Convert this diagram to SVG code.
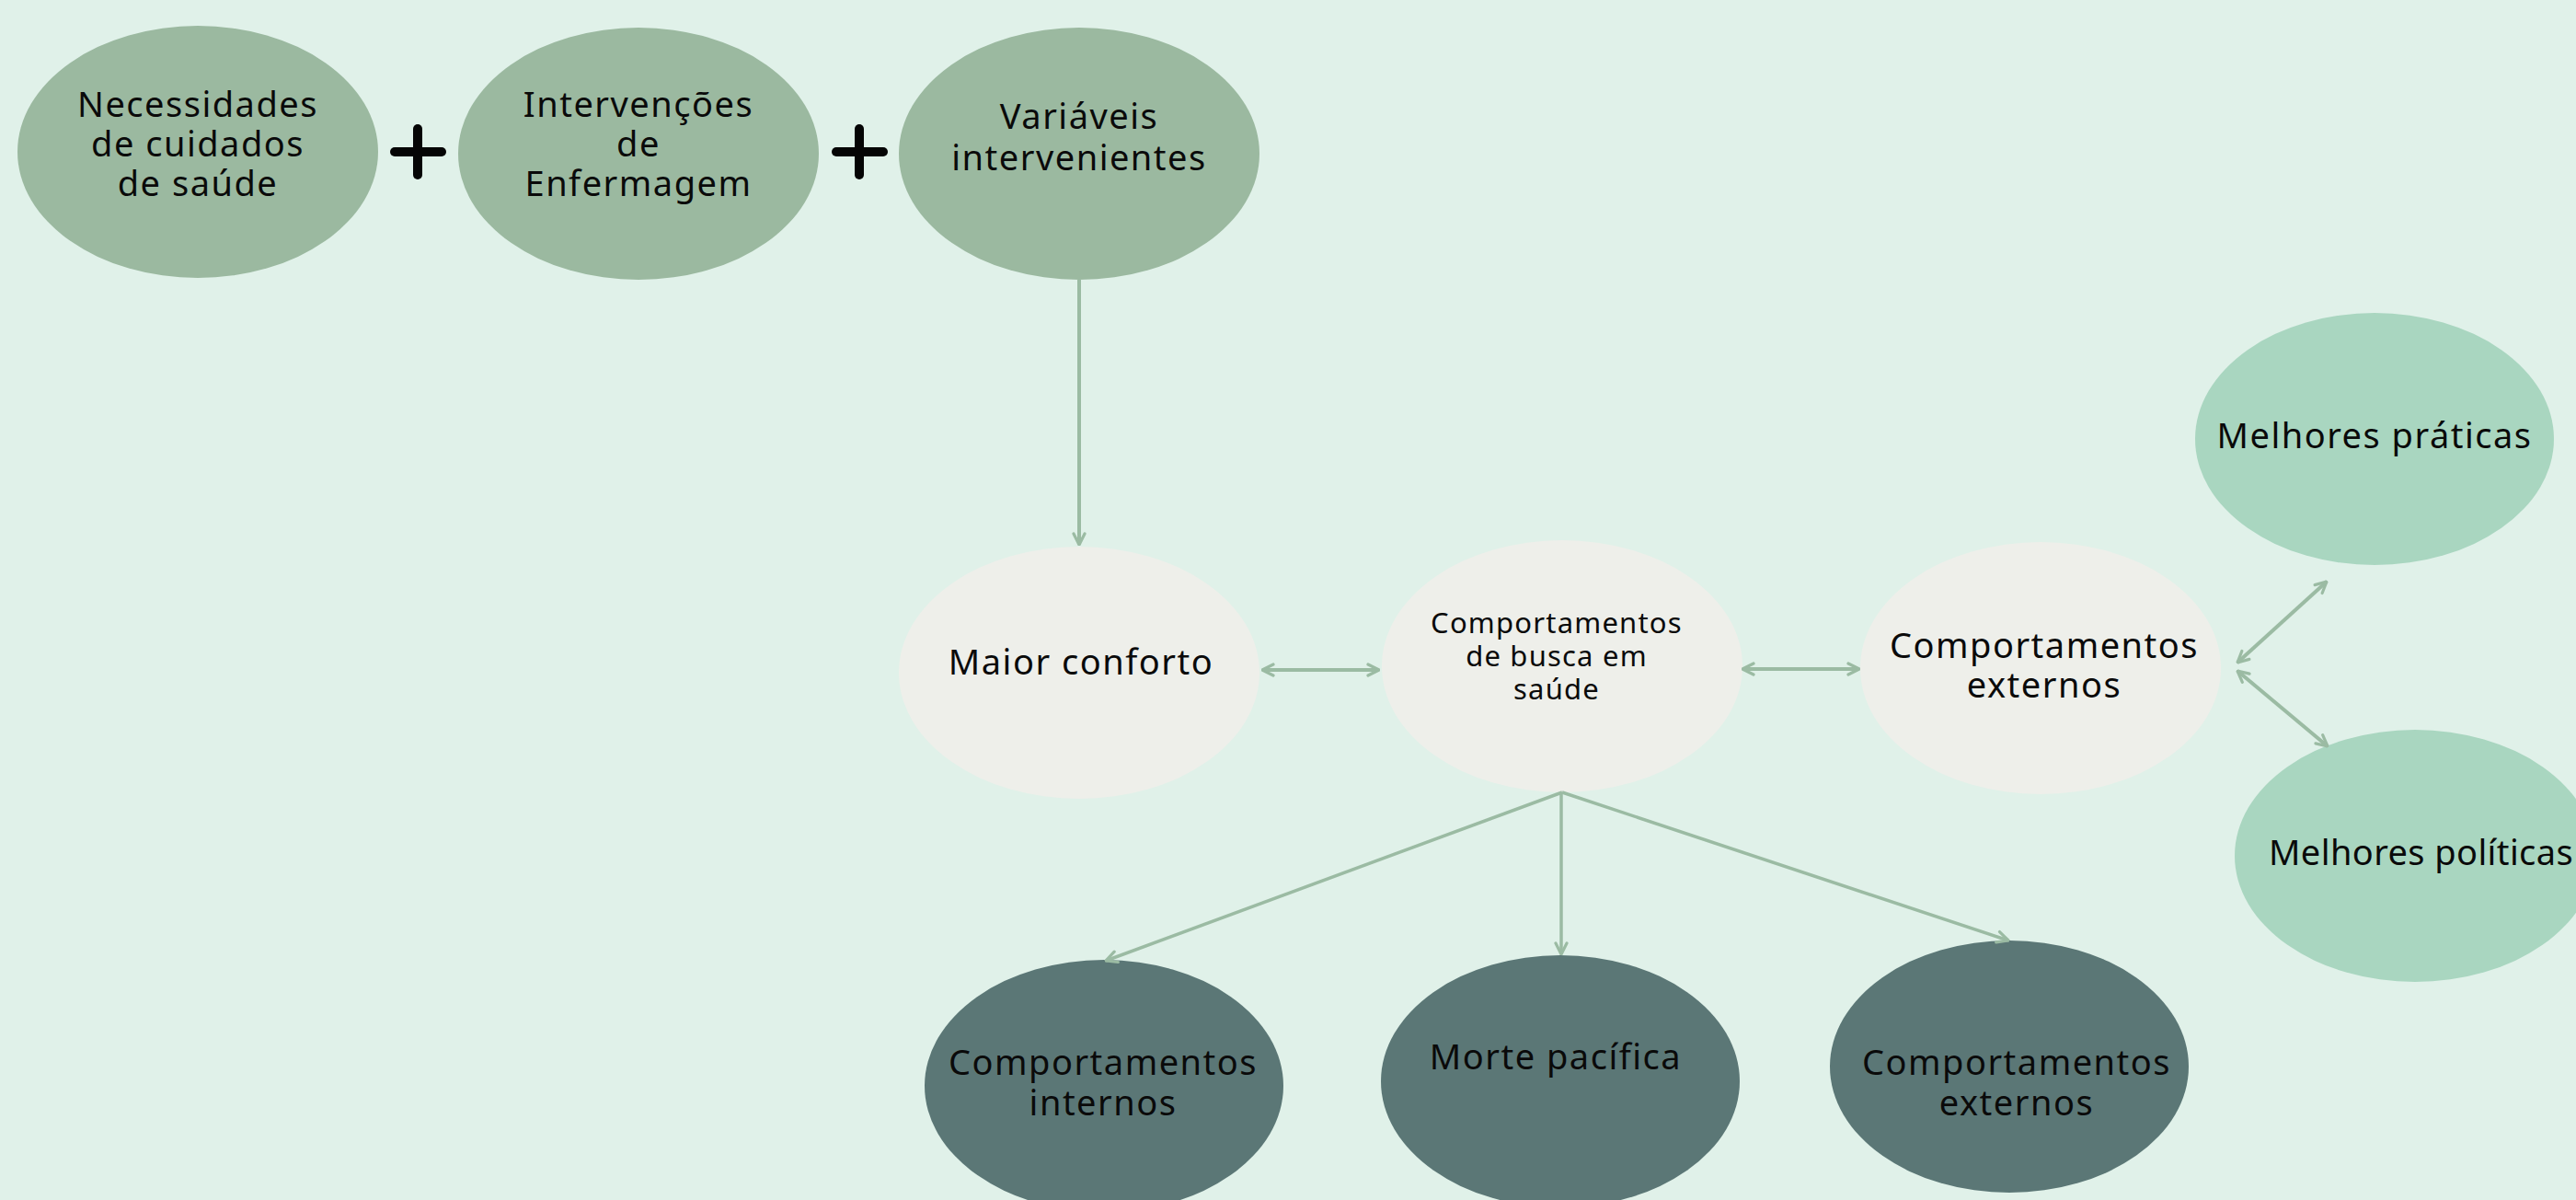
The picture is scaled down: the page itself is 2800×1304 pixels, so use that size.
<svg xmlns="http://www.w3.org/2000/svg" width="2800" height="1304" viewBox="0 0 2800 1304">
  <style>
    .lbl { font-family: "Noto Sans", "Open Sans", sans-serif; font-size: 38px; letter-spacing: 1.5px; fill: #0a0a0a; text-anchor: middle; }
    .sm { font-size: 31px; letter-spacing: 1.2px; }
    .top { fill: #9bb9a0; }
    .mid { fill: #eeefea; }
    .side { fill: #a9d6c0; }
    .out { fill: #5b7776; }
    .plus { stroke: #050505; stroke-width: 10; stroke-linecap: round; }
    .conn line { stroke: #9bbba3; stroke-width: 4; fill: none; }
  </style>
  <defs>
    <marker id="head" viewBox="0 0 12 12" refX="11" refY="6" markerWidth="16" markerHeight="16" markerUnits="userSpaceOnUse" orient="auto-start-reverse">
      <path d="M2,1.5 L11,6 L2,10.5" fill="none" stroke="#9bbba3" stroke-width="2.4" stroke-linecap="round" stroke-linejoin="round"/>
    </marker>
  </defs>

  <rect width="2800" height="1304" fill="#e0f1e9"/>

  <!-- top row: inputs -->
  <g id="necessidades">
    <ellipse class="top" cx="215" cy="165" rx="196" ry="137"/>
    <text class="lbl" x="215" y="127">Necessidades</text>
    <text class="lbl" x="215" y="170">de cuidados</text>
    <text class="lbl" x="215" y="213">de saúde</text>
  </g>
  <g id="plus1">
    <line class="plus" x1="454" y1="140" x2="454" y2="190"/>
    <line class="plus" x1="429" y1="165" x2="480" y2="165"/>
  </g>
  <g id="intervencoes">
    <ellipse class="top" cx="694" cy="167" rx="196" ry="137"/>
    <text class="lbl" x="694" y="127">Intervenções</text>
    <text class="lbl" x="694" y="170">de</text>
    <text class="lbl" x="694" y="213">Enfermagem</text>
  </g>
  <g id="plus2">
    <line class="plus" x1="934" y1="140" x2="934" y2="190"/>
    <line class="plus" x1="909" y1="165" x2="960" y2="165"/>
  </g>
  <g id="variaveis">
    <ellipse class="top" cx="1173" cy="167" rx="196" ry="137"/>
    <text class="lbl" x="1173" y="140">Variáveis</text>
    <text class="lbl" x="1173" y="185">intervenientes</text>
  </g>

  <!-- middle row -->
  <g id="maior-conforto">
    <ellipse class="mid" cx="1173" cy="731" rx="196" ry="137"/>
    <text class="lbl" x="1175" y="733">Maior conforto</text>
  </g>
  <g id="busca-saude">
    <ellipse class="mid" cx="1698" cy="724" rx="196" ry="137"/>
    <text class="lbl sm" x="1692" y="688">Comportamentos</text>
    <text class="lbl sm" x="1692" y="724">de busca em</text>
    <text class="lbl sm" x="1692" y="760">saúde</text>
  </g>
  <g id="externos-mid">
    <ellipse class="mid" cx="2218" cy="726" rx="196" ry="137"/>
    <text class="lbl" x="2222" y="715">Comportamentos</text>
    <text class="lbl" x="2222" y="758">externos</text>
  </g>

  <!-- right column -->
  <g id="melhores-praticas">
    <ellipse class="side" cx="2581" cy="477" rx="195" ry="137"/>
    <text class="lbl" x="2581" y="487">Melhores práticas</text>
  </g>
  <g id="melhores-politicas">
    <ellipse class="side" cx="2625" cy="930" rx="196" ry="137"/>
    <text class="lbl" x="2466" y="940" style="text-anchor:start;letter-spacing:0.4px">Melhores políticas</text>
  </g>

  <!-- bottom row: outcomes -->
  <g id="internos">
    <ellipse class="out" cx="1200" cy="1180" rx="195" ry="137"/>
    <text class="lbl" x="1199" y="1168">Comportamentos</text>
    <text class="lbl" x="1199" y="1212">internos</text>
  </g>
  <g id="morte-pacifica">
    <ellipse class="out" cx="1696" cy="1175" rx="195" ry="137"/>
    <text class="lbl" x="1691" y="1162">Morte pacífica</text>
  </g>
  <g id="externos-out">
    <ellipse class="out" cx="2184" cy="1159" rx="195" ry="137"/>
    <text class="lbl" x="2192" y="1168">Comportamentos</text>
    <text class="lbl" x="2192" y="1212">externos</text>
  </g>

  <!-- connectors -->
  <g class="conn">
    <line x1="1173" y1="304" x2="1173" y2="592" marker-end="url(#head)"/>
    <line x1="1372" y1="728" x2="1499" y2="728" marker-start="url(#head)" marker-end="url(#head)"/>
    <line x1="1894" y1="727" x2="2021" y2="727" marker-start="url(#head)" marker-end="url(#head)"/>
    <line x1="2432" y1="720" x2="2529" y2="632" marker-start="url(#head)" marker-end="url(#head)"/>
    <line x1="2432" y1="729" x2="2530" y2="811" marker-start="url(#head)" marker-end="url(#head)"/>
    <line x1="1698" y1="861" x2="1202" y2="1044" style="stroke-width:3.5" marker-end="url(#head)"/>
    <line x1="1697" y1="861" x2="1697" y2="1037" style="stroke-width:3.5" marker-end="url(#head)"/>
    <line x1="1698" y1="861" x2="2183" y2="1022" style="stroke-width:3.5" marker-end="url(#head)"/>
  </g>
</svg>
